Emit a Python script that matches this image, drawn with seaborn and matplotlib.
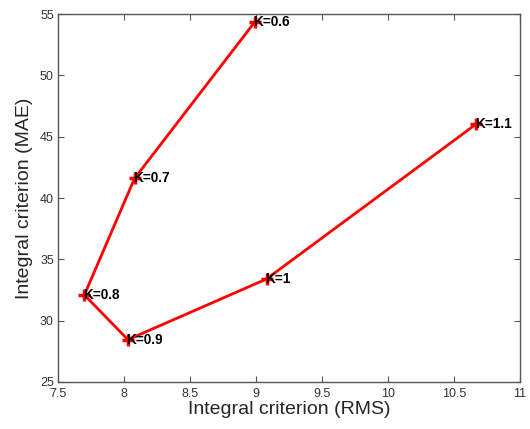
import matplotlib
matplotlib.use('Agg')
import pandas as pd
import matplotlib.pyplot as plt
import seaborn as sns

# RMS vs MAE integral criteria for each gain K
k_labels = ['K=0.6', 'K=0.7', 'K=0.8', 'K=0.9', 'K=1', 'K=1.1']
rms = [8.99, 8.08, 7.70, 8.03, 9.08, 10.67]
mae = [54.35, 41.6, 32.1, 28.45, 33.4, 46.05]

df = pd.DataFrame({'K': k_labels, 'RMS': rms, 'MAE': mae})

sns.set_style('white')
plt.rcParams['font.family'] = ['Liberation Sans', 'DejaVu Sans']

fig = plt.figure(figsize=(5.3, 4.29), dpi=100)
ax = fig.add_axes([0.1094, 0.1096, 0.8716, 0.8574])

sns.lineplot(data=df, x='RMS', y='MAE', sort=False, color='red', lw=2,
             marker='+', markersize=8, markeredgewidth=2.5,
             markeredgecolor='red', ax=ax)

for i, row in df.iterrows():
    ax.text(row['RMS'] - 0.01, row['MAE'], row['K'], fontsize=9.8,
            fontweight='bold', ha='left', va='center', color='black')

ax.set_xlim(7.5, 11)
ax.set_ylim(25, 55)
ax.set_xticks([7.5, 8, 8.5, 9, 9.5, 10, 10.5, 11])
ax.set_xticklabels(['7.5', '8', '8.5', '9', '9.5', '10', '10.5', '11'])
ax.set_yticks(range(25, 56, 5))

ax.tick_params(direction='in', length=4, width=0.8, colors='#555555',
               labelcolor='#333333', labelsize=9, top=True, right=True,
               bottom=True, left=True)
ax.tick_params(axis='x', pad=4)
ax.tick_params(axis='y', pad=3)
for sp in ax.spines.values():
    sp.set_color('#555555')
    sp.set_linewidth(1.0)

ax.set_xlabel('Integral criterion (RMS)', fontsize=14, labelpad=1)
ax.set_ylabel('Integral criterion (MAE)', fontsize=14, labelpad=5)

fig.savefig('out.png', dpi=100)
